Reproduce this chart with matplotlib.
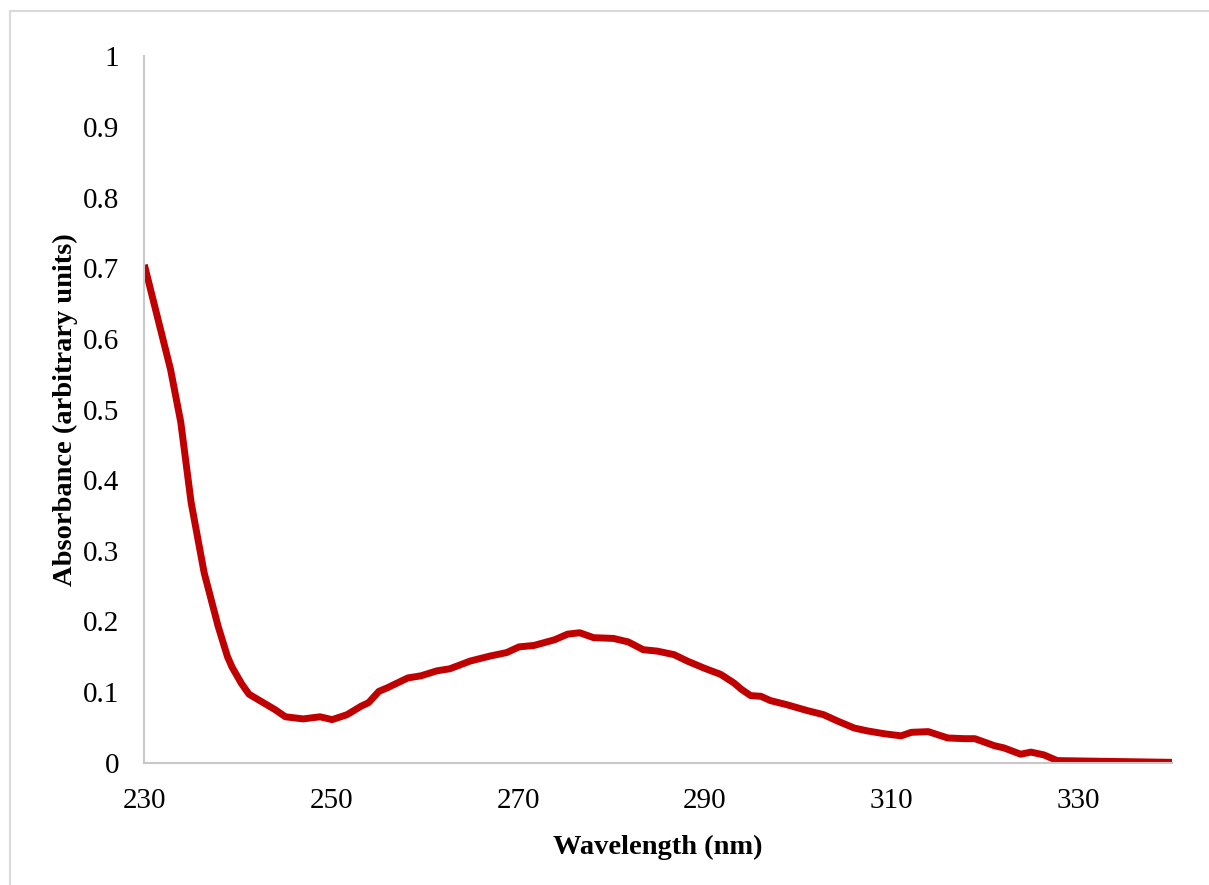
import matplotlib
matplotlib.use("Agg")
import matplotlib.pyplot as plt
from matplotlib.patches import Rectangle

# absorption spectrum
wavelength = [230.0, 232.8, 233.9, 235.0, 236.4, 237.9, 238.9, 239.4, 240.4, 241.2,
              242.6, 244.0, 245.1, 247.0, 248.8, 250.1, 251.7, 253.2, 254.0, 255.1,
              256.0, 258.2, 259.6, 261.3, 262.7, 264.9, 267.0, 268.8, 270.1, 271.7,
              273.9, 275.3, 276.6, 278.1, 280.2, 281.8, 283.4, 284.9, 286.7, 288.1,
              289.9, 291.7, 293.1, 293.9, 294.9, 296.0, 297.0, 298.8, 300.9, 302.7,
              304.2, 306.0, 307.4, 309.2, 311.0, 312.1, 313.9, 316.0, 317.8, 318.9,
              321.0, 322.0, 323.8, 324.9, 326.3, 327.7, 332.4, 340.0]
absorbance = [0.705, 0.557, 0.482, 0.369, 0.269, 0.193, 0.150, 0.135, 0.112, 0.097,
              0.086, 0.075, 0.065, 0.062, 0.065, 0.061, 0.068, 0.080, 0.085, 0.101,
              0.106, 0.120, 0.123, 0.130, 0.133, 0.144, 0.151, 0.156, 0.164, 0.166,
              0.174, 0.182, 0.184, 0.177, 0.176, 0.171, 0.160, 0.158, 0.153, 0.144,
              0.134, 0.125, 0.113, 0.104, 0.095, 0.094, 0.088, 0.082, 0.074, 0.068,
              0.059, 0.049, 0.045, 0.041, 0.038, 0.043, 0.044, 0.035, 0.034, 0.034,
              0.024, 0.021, 0.012, 0.015, 0.011, 0.003, 0.002, 0.0005]

x_ticks = [230, 250, 270, 290, 310, 330]
y_ticks = [0, 0.1, 0.2, 0.3, 0.4, 0.5, 0.6, 0.7, 0.8, 0.9, 1]
y_labels = ["0", "0.1", "0.2", "0.3", "0.4", "0.5", "0.6", "0.7", "0.8", "0.9", "1"]

plt.rcParams['font.family'] = ['Liberation Serif', 'DejaVu Serif']

fig = plt.figure(figsize=(12.09, 8.85), dpi=100)
ax = fig.add_axes([0.1194, 0.1382, 0.850, 0.798])

ax.plot(wavelength, absorbance, color="#C00000", linewidth=5,
        solid_joinstyle="round", solid_capstyle="butt")

ax.set_xlim(230, 340)
ax.set_ylim(0, 1)
ax.set_xticks(x_ticks)
ax.set_yticks(y_ticks)
ax.set_yticklabels(y_labels)
ax.tick_params(length=0, labelsize=21)
ax.tick_params(axis="y", pad=18)
ax.tick_params(axis="x", pad=18)

for s in ["top", "right"]:
    ax.spines[s].set_visible(False)
for s in ["left", "bottom"]:
    ax.spines[s].set_color("#c8c8c8")
    ax.spines[s].set_linewidth(1.5)

ax.set_xlabel("Wavelength (nm)", fontsize=20.5, fontweight="bold", labelpad=15)
ax.set_ylabel("Absorbance (arbitrary units)", fontsize=20.5, fontweight="bold", labelpad=3.5)

# chart area border
fig.patches.append(Rectangle((0.008, -0.01), 1.0, 0.998, transform=fig.transFigure,
                             fill=False, edgecolor="#d9d9d9", linewidth=1.5))

fig.savefig("out.png", dpi=100)
